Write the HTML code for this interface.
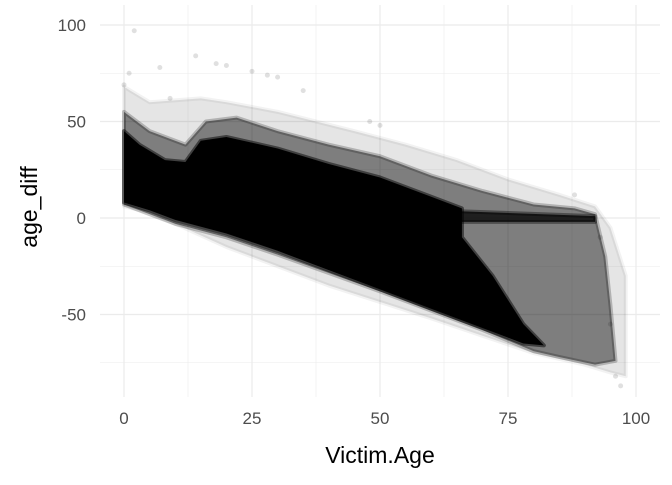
<!DOCTYPE html>
<html><head><meta charset="utf-8"><style>
body{margin:0;background:#fff}
svg text{font-family:"Liberation Sans",sans-serif}
</style></head><body>
<svg id="chart" width="672" height="480" xmlns="http://www.w3.org/2000/svg">
<g id="grid"></g>
<g id="marks"></g>
<g id="axes"></g>
<text x="380" y="463" text-anchor="middle" font-size="23" fill="#000">Victim.Age</text>
<text transform="translate(37,207) rotate(-90)" text-anchor="middle" font-size="23" fill="#000">age_diff</text>
</svg>
<script>
const xTicks=[0,25,50,75,100];
const yTicks=[-50,0,50,100];
const xMinor=[12.5,37.5,62.5,87.5];
const yMinor=[-75,-25,25,75];
// density envelopes: [age, diff]
const haloAges=[0,5,15,20,30,45,55,65,75,85,92,95,98,98,95,90,80,60,40,20,5,0];
const haloDiffs=[68,60,62,60,55,45,38,30,20,12,6,-5,-30,-82,-80,-76,-70,-52,-35,-15,3,6];
const midAges=[0,5,12,16,22,30,40,50,60,70,80,88,92,94,95,96,92,85,80,70,50,30,20,10,0];
const midDiffs=[55,45,38,50,52,45,38,32,22,14,7,5,2,-20,-45,-74,-76,-72,-69,-58,-38,-19,-10,-3,7];
const coreAges=[0,3,8,12,15,20,30,40,50,60,66,66,72,78,82,78,70,60,50,40,30,20,10,5,0];
const coreDiffs=[45,38,30,29,40,42,36,28,21,11,5,-10,-30,-55,-66,-65,-57,-47,-37,-27,-17,-8,-1,4,8];
const stripAges=[60,92,92,60];
const stripDiffs=[4,1,-2,-2];
const outAges=[2,0,14,18,20,25,28,30,35,48,50,97,96,7,9,1,88,93,95];
const outDiffs=[97,69,84,80,79,76,74,73,66,50,48,-87,-82,78,62,75,12,-10,-55];
const X=v=>124+v*5.12;
const Y=v=>218-v*1.93;
const NS='http://www.w3.org/2000/svg';
const grid=document.getElementById('grid'),marks=document.getElementById('marks'),axes=document.getElementById('axes');
function line(x1,y1,x2,y2,w,name){const l=document.createElementNS(NS,'line');
l.setAttribute('x1',x1);l.setAttribute('y1',y1);l.setAttribute('x2',x2);l.setAttribute('y2',y2);
l.setAttribute('stroke','#ebebeb');l.setAttribute('stroke-width',w);


grid.appendChild(l);}
xMinor.forEach(v=>line(X(v),5,X(v),397,0.6,'x-minor-grid'));
yMinor.forEach(v=>line(100,Y(v),660,Y(v),0.6,'y-minor-grid'));
xTicks.forEach(v=>line(X(v),5,X(v),397,1.2,'x-major-grid'));
yTicks.forEach(v=>line(100,Y(v),660,Y(v),1.2,'y-major-grid'));
function poly(ages,diffs,op,name){const p=document.createElementNS(NS,'polygon');
p.setAttribute('points',ages.map((a,i)=>X(a)+','+Y(diffs[i])).join(' '));
p.setAttribute('fill','#000');p.setAttribute('fill-opacity',op);
p.setAttribute('stroke','#000');p.setAttribute('stroke-opacity',op*0.5);p.setAttribute('stroke-width',4);p.setAttribute('stroke-linejoin','round');


marks.appendChild(p);}
poly(haloAges,haloDiffs,0.1,'sparse-point-cloud');
poly(midAges,midDiffs,0.45,'medium-point-cloud');
poly(coreAges,coreDiffs,1,'dense-point-cloud');
poly(stripAges,stripDiffs,0.75,'zero-diff-strip');
outAges.forEach((a,i)=>{const c=document.createElementNS(NS,'circle');
c.setAttribute('cx',X(a));c.setAttribute('cy',Y(outDiffs[i]));c.setAttribute('r',2.5);
c.setAttribute('fill','#000');c.setAttribute('fill-opacity',0.12);


marks.appendChild(c);});
xTicks.forEach(v=>{const t=document.createElementNS(NS,'text');
t.setAttribute('x',X(v));t.setAttribute('y',424);t.setAttribute('text-anchor','middle');
t.setAttribute('font-size','17');t.setAttribute('fill','#4d4d4d');t.textContent=v;


axes.appendChild(t);});
yTicks.forEach(v=>{const t=document.createElementNS(NS,'text');
t.setAttribute('x',86);t.setAttribute('y',Y(v)+6);t.setAttribute('text-anchor','end');
t.setAttribute('font-size','17');t.setAttribute('fill','#4d4d4d');t.textContent=v;


axes.appendChild(t);});
</script>
</body></html>
